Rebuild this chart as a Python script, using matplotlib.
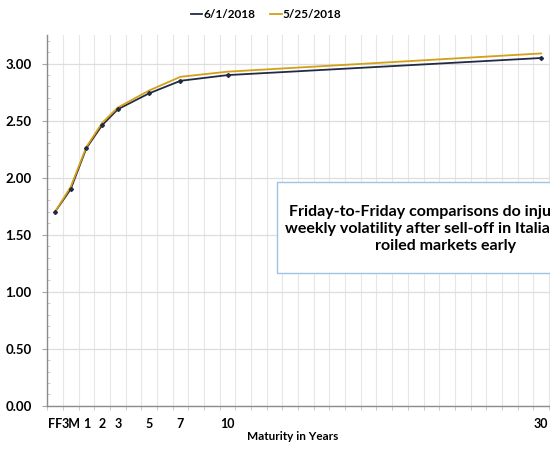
import matplotlib
matplotlib.use("Agg")
import matplotlib.pyplot as plt
from matplotlib.patches import Rectangle
import numpy as np

# Data
tenor_labels = ["FF", "3M", "1", "2", "3", "5", "7", "10", "30"]
tenor_years = [-1, 0, 1, 2, 3, 5, 7, 10, 30]
yields_0601 = [1.70, 1.90, 2.26, 2.46, 2.60, 2.74, 2.85, 2.90, 3.05]
yields_0525 = [1.70, 1.92, 2.27, 2.48, 2.615, 2.765, 2.885, 2.93, 3.09]
series_names = ["6/1/2018", "5/25/2018"]
note_text = ("Friday-to-Friday comparisons do injustice to\n"
             "weekly volatility after sell-off in Italian bonds\n"
             "roiled markets early")

FONT = ["Lato", "DejaVu Sans"]
plt.rcParams['font.family'] = FONT

W, H = 550, 449
fig = plt.figure(figsize=(W / 100, H / 100), dpi=100)

xmin, xmax = -1.5, 31.5
px_per_unit = 15.68
ax_left = 47.2
ax_width = (xmax - xmin) * px_per_unit
ax_bottom = 405.7
ax_top = 35.2
ax = fig.add_axes([ax_left / W, (H - ax_bottom) / H, ax_width / W, (ax_bottom - ax_top) / H])

navy = "#222b45"
gold = "#d4a017"

ax.plot(tenor_years, yields_0601, color=navy, lw=1.3, zorder=3, label=series_names[0])
ax.plot(tenor_years, yields_0525, color=gold, lw=1.3, zorder=4, label=series_names[1])
ax.plot(tenor_years, yields_0601, color=navy, lw=0, marker="D", ms=2.0, zorder=5)

ax.set_xlim(xmin, xmax)
ax.set_ylim(0, 3.25)

# x axis: labels at tenors, ticks + grid at half units
ax.set_xticks(tenor_years)
ax.set_xticklabels(tenor_labels, fontsize=9, fontweight="bold")
ax.tick_params(axis="x", which="major", length=0, pad=8.5)
ax.set_xticks(np.arange(xmin, xmax + 0.01, 1.0), minor=True)
ax.tick_params(axis="x", which="minor", length=3, direction="out", color="#bfbfbf")
ax.grid(axis="x", which="minor", color="#e6e6e6", lw=0.8)

# y axis
ax.set_yticks(np.arange(0, 3.01, 0.5))
ax.set_yticklabels([f"{v:.2f}" for v in np.arange(0, 3.01, 0.5)], fontsize=9.5, fontweight="bold")
ax.set_yticks(np.arange(0, 3.26, 0.1), minor=True)
ax.tick_params(axis="y", which="major", length=3.6, direction="out", color="#a6a6a6", pad=7.7)
ax.tick_params(axis="y", which="minor", length=2.4, direction="in", color="#bfbfbf")
ax.grid(axis="y", which="major", color="#dedede", lw=0.9)
ax.set_axisbelow(True)

for s in ["top", "right"]:
    ax.spines[s].set_visible(False)
for s in ["left", "bottom"]:
    ax.spines[s].set_color("#8c8c8c")
    ax.spines[s].set_linewidth(1.0)

# legend
fig.legend(loc="center", bbox_to_anchor=(266 / W, (H - 15) / H), ncol=2, frameon=False,
           prop={"family": FONT, "weight": "bold", "size": 8.5}, handlelength=1.0,
           handletextpad=0.1, columnspacing=1.2)

# x label
fig.text(292.5 / W, (H - 437) / H, "Maturity in Years", ha="center", va="center",
         fontsize=8.5, fontweight="bold")

# annotation box (extends past the right edge, as in the reference)
bx0, bx1, by0, by1 = 277.3, 614.0, 182.3, 273.3
fig.patches.append(Rectangle((bx0 / W, (H - by1) / H), (bx1 - bx0) / W, (by1 - by0) / H,
                             transform=fig.transFigure, facecolor="white",
                             edgecolor="#9dc3e6", lw=1.0, zorder=10))
fig.text(((bx0 + bx1) / 2) / W, (H - 229) / H, note_text, ha="center", va="center",
         fontsize=11.5, fontweight="bold", linespacing=1.3, zorder=11)

fig.savefig("out.png", dpi=100)
